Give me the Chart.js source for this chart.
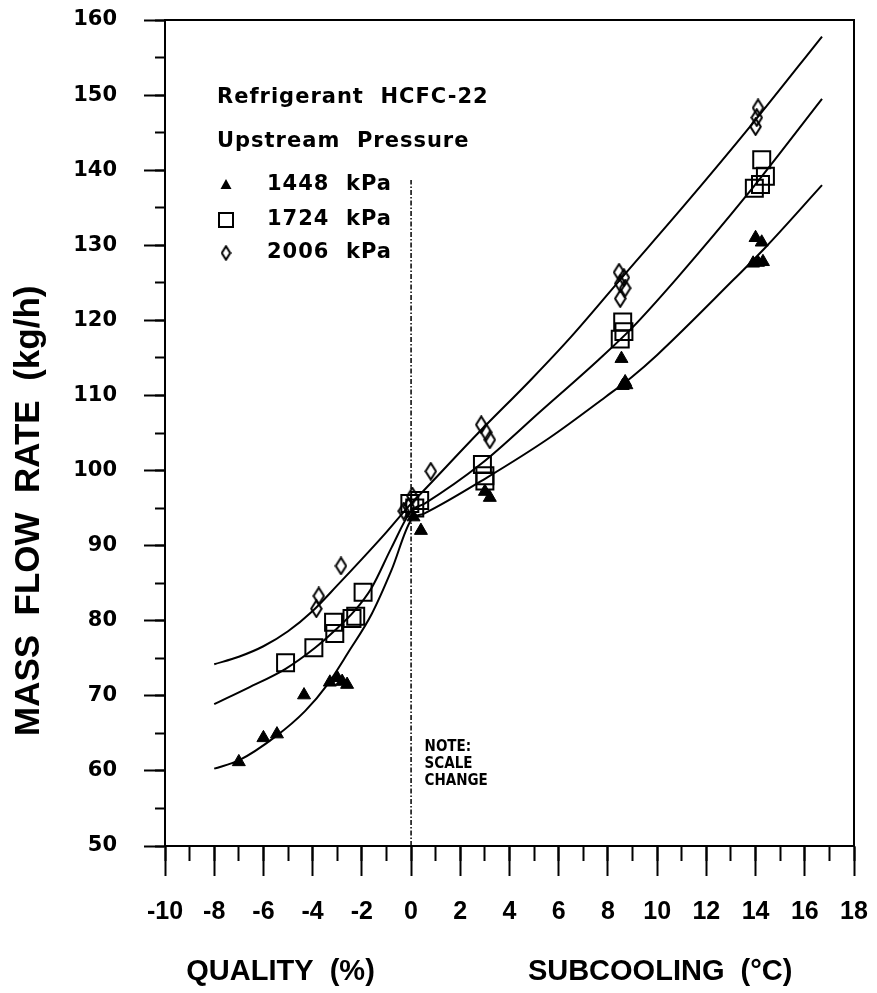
<!DOCTYPE html>
<html>
<head>
<meta charset="utf-8">
<script src="https://cdn.jsdelivr.net/npm/chart.js@4.4.1/dist/chart.umd.min.js"></script>
<style>
  html, body { margin: 0; padding: 0; background: #ffffff; }
  canvas { display: block; }
</style>
</head>
<body>
<canvas id="chart" width="877" height="993"></canvas>
<script>
// ---------------- data ----------------
const xMajorTicks = [-10, -8, -6, -4, -2, 0, 2, 4, 6, 8, 10, 12, 14, 16, 18];
const yMajorTicks = [50, 60, 70, 80, 90, 100, 110, 120, 130, 140, 150, 160];

const seriesLabels = ['1448  kPa', '1724  kPa', '2006  kPa'];

// measured points, 1448 kPa (triangles)
const x1448 = [-7.0, -6.0, -5.45, -4.35, -3.3, -3.0, -2.8, -2.6, 0.1, 0.4, 3.0, 3.2, 8.55, 8.6, 8.7, 8.75, 14.0, 14.25, 13.9, 14.1, 14.3];
const y1448 = [61.2, 64.4, 64.9, 70.1, 71.8, 72.4, 71.9, 71.5, 93.8, 92.0, 97.2, 96.4, 114.9, 111.3, 111.8, 111.4, 131.0, 130.4, 127.6, 127.7, 127.8];

// measured points, 1724 kPa (squares)
const x1724 = [-5.1, -3.95, -3.15, -3.1, -2.4, -2.25, -1.95, -0.05, 0.15, 0.35, 2.9, 3.0, 3.0, 8.6, 8.65, 8.5, 14.25, 14.4, 14.2, 13.95];
const y1724 = [74.4, 76.4, 79.8, 78.3, 80.3, 80.6, 83.8, 95.6, 95.0, 96.0, 100.8, 99.3, 98.6, 119.8, 118.5, 117.5, 141.4, 139.2, 138.1, 137.6];

// measured points, 2006 kPa (diamonds)
const x2006 = [-3.85, -3.75, -2.85, -0.3, -0.1, 0.05, 0.8, 2.85, 3.05, 3.2, 8.45, 8.65, 8.5, 8.7, 8.5, 14.1, 14.05, 14.0];
const y2006 = [81.6, 83.3, 87.3, 94.6, 95.2, 96.6, 99.9, 106.1, 105.1, 104.1, 126.4, 125.7, 124.9, 124.3, 122.9, 148.3, 147.0, 145.8];

// fitted curves
const fit1448X = [-8, -7, -5.5, -4.3, -3.4, -2.55, -1.6, -0.8, 0, 0.55, 3.1, 5.6, 7.9, 8.95, 10, 13.1, 14.4, 16.7];
const fit1448Y = [60.3, 61.4, 64.6, 68.0, 71.5, 75.8, 80.9, 86.7, 93.4, 94.3, 99.1, 104.3, 109.8, 112.4, 115.4, 125.4, 129.7, 138.0];

const fit1724X = [-8, -6.6, -5.1, -3.9, -3.1, -2.3, -1.6, -0.8, 0, 0.55, 2.85, 5.3, 7.6, 8.95, 10.8, 13.7, 16.7];
const fit1724Y = [68.9, 71.1, 73.6, 76.4, 78.7, 81.3, 84.4, 89.7, 94.6, 95.6, 100.9, 108.0, 114.7, 118.9, 125.6, 136.9, 149.5];

const fit2006X = [-8, -7, -6, -5, -4, -3, -2, -1, 0, 0.3, 2.7, 4.9, 6.5, 8.7, 11.1, 13.8, 16.7];
const fit2006Y = [74.2, 75.2, 76.6, 78.6, 81.3, 84.7, 88.2, 91.8, 95.6, 96.6, 104.9, 112.2, 117.8, 126.2, 135.3, 145.9, 157.8];

// divider at zero (quality | subcooling)
const dividerX = [0, 0];
const dividerY = [50, 138.7];

const headerLines = ['Refrigerant  HCFC-22', 'Upstream  Pressure'];
const noteLines = ['NOTE:', 'SCALE', 'CHANGE'];
const xTitleLeft = 'QUALITY  (%)';
const xTitleRight = 'SUBCOOLING  (°C)';
const yTitleText = 'MASS  FLOW  RATE  (kg/h)';

// ---------------- helpers ----------------
const pts = (xs, ys) => xs.map((x, i) => ({ x: x, y: ys[i] }));

function makeDiamond(w, h, lw) {
  const c = document.createElement('canvas');
  c.width = w; c.height = h;
  const g = c.getContext('2d');
  g.strokeStyle = '#000'; g.lineWidth = lw; g.lineJoin = 'miter';
  const m = lw / 2 + 0.3;
  g.beginPath();
  g.moveTo(w / 2, m);
  g.lineTo(w - m, h / 2);
  g.lineTo(w / 2, h - m);
  g.lineTo(m, h / 2);
  g.closePath();
  g.stroke();
  return c;
}
const diamondImg = makeDiamond(13, 19, 2);
const diamondLegendImg = makeDiamond(11, 16, 2);

const FONT_SANS = '"Liberation Sans", Arial, Helvetica, sans-serif';
const FONT_WIDE = '"DejaVu Sans", Verdana, sans-serif';
const FONT_NARROW = '"Liberation Sans Narrow", "DejaVu Sans Condensed", "Arial Narrow", "Liberation Sans", sans-serif';

// layout in pixels
const CA_LEFT = 165, CA_RIGHT = 854, CA_TOP = 20, CA_BOTTOM = 846;
const W = 877, H = 993;

// build axis-title strings with spacing so each part sits under its half
const mctx = document.createElement('canvas').getContext('2d');
const xTitleSize = 29;
mctx.font = 'bold ' + xTitleSize + 'px ' + FONT_SANS;
const spW = mctx.measureText(' ').width;
const wQ = mctx.measureText(xTitleLeft).width;
const wS = mctx.measureText(xTitleRight).width;
const qCenter = 279, sCenter = 661;
const nGap = Math.max(1, Math.round(((sCenter - wS / 2) - (qCenter + wQ / 2)) / spW));
const core = xTitleLeft + ' '.repeat(nGap) + xTitleRight;
const coreW = wQ + nGap * spW + wS;
const caC = (CA_LEFT + CA_RIGHT) / 2;
const startWanted = qCenter - wQ / 2;
let trail = (2 * (caC - startWanted) - coreW) / spW;
let xTitleText;
if (trail >= 0) xTitleText = core + ' '.repeat(Math.round(trail));
else xTitleText = ' '.repeat(Math.round(-trail)) + core;

const yTitleSize = 35;
mctx.font = 'bold ' + yTitleSize + 'px ' + FONT_SANS;
const spY = mctx.measureText(' ').width;
const yCenterWanted = 510;
const yShift = yCenterWanted - (CA_TOP + CA_BOTTOM) / 2; // shift toward the bottom
const yTitleFull = yTitleText + ' '.repeat(Math.max(0, Math.round(2 * yShift / spY)));

// ---------------- plugins ----------------
const framePlugin = {
  id: 'frame',
  afterDatasetsDraw(chart) {
    const { ctx, chartArea: a } = chart;
    ctx.save();
    ctx.strokeStyle = '#000';
    ctx.lineWidth = 2;
    ctx.beginPath();
    ctx.moveTo(a.left, a.top);
    ctx.lineTo(a.right, a.top);
    ctx.lineTo(a.right, a.bottom);
    ctx.stroke();
    ctx.restore();
  }
};

function legendMarker(ctx, kind, x, y) {
  ctx.save();
  ctx.fillStyle = '#000';
  ctx.strokeStyle = '#000';
  if (kind === 0) {
    ctx.beginPath();
    ctx.moveTo(x, y - 6);
    ctx.lineTo(x + 5.5, y + 4);
    ctx.lineTo(x - 5.5, y + 4);
    ctx.closePath();
    ctx.fill();
  } else if (kind === 1) {
    ctx.lineWidth = 2;
    ctx.strokeRect(x - 7, y - 7, 14, 14);
  } else {
    ctx.drawImage(diamondLegendImg, x - diamondLegendImg.width / 2, y - diamondLegendImg.height / 2);
  }
  ctx.restore();
}

const annotationPlugin = {
  id: 'annotations',
  afterDraw(chart) {
    const ctx = chart.ctx;
    ctx.save();
    ctx.fillStyle = '#000';
    ctx.textAlign = 'left';
    ctx.textBaseline = 'middle';
    ctx.font = 'bold 21px ' + FONT_WIDE;
    try { ctx.letterSpacing = '1px'; } catch (e) {}
    ctx.fillText(headerLines[0], 217, 98);
    ctx.fillText(headerLines[1], 217, 142);
    const rowsY = [185, 220, 253];
    for (let i = 0; i < 3; i++) {
      legendMarker(ctx, i, 226, rowsY[i]);
      ctx.fillText(seriesLabels[i], 267, rowsY[i]);
    }
    // note at the scale change
    try { ctx.letterSpacing = '0px'; } catch (e) {}
    ctx.font = 'bold 15px ' + FONT_NARROW;
    const xs = chart.scales.x;
    const ys = chart.scales.y;
    const nx = xs.getPixelForValue(0.55);
    const ny = [63.2, 60.9, 58.6];
    noteLines.forEach((t, i) => ctx.fillText(t, nx, ys.getPixelForValue(ny[i])));
    ctx.restore();
  }
};

// ---------------- chart ----------------
const curveStyle = {
  type: 'line', showLine: true, pointRadius: 0, borderColor: '#000', borderWidth: 2,
  cubicInterpolationMode: 'monotone', fill: false, order: 5
};

const ctx = document.getElementById('chart').getContext('2d');
new Chart(ctx, {
  type: 'scatter',
  data: {
    datasets: [
      Object.assign({ label: 'fit 1448', data: pts(fit1448X, fit1448Y) }, curveStyle),
      Object.assign({ label: 'fit 1724', data: pts(fit1724X, fit1724Y) }, curveStyle),
      Object.assign({ label: 'fit 2006', data: pts(fit2006X, fit2006Y) }, curveStyle),
      {
        type: 'line', label: 'divider', data: pts(dividerX, dividerY), showLine: true, pointRadius: 0,
        borderColor: '#000', borderWidth: 1.5, borderDash: [5, 2, 1.5, 2], fill: false, order: 6
      },
      {
        label: seriesLabels[0], data: pts(x1448, y1448), pointStyle: 'triangle', pointRadius: 7.5,
        pointBackgroundColor: '#000', pointBorderColor: '#000', pointBorderWidth: 1, showLine: false, order: 1
      },
      {
        label: seriesLabels[1], data: pts(x1724, y1724), pointStyle: 'rect', pointRadius: 12,
        pointBackgroundColor: 'rgba(0,0,0,0)', pointBorderColor: '#000', pointBorderWidth: 2, showLine: false, order: 2
      },
      {
        label: seriesLabels[2], data: pts(x2006, y2006), pointStyle: diamondImg, pointRadius: 8,
        pointBackgroundColor: 'rgba(0,0,0,0)', pointBorderColor: '#000', showLine: false, order: 3
      }
    ]
  },
  options: {
    responsive: false,
    animation: false,
    devicePixelRatio: 1,
    events: [],
    layout: { padding: { top: CA_TOP, right: W - CA_RIGHT, left: 0, bottom: 0 } },
    plugins: { legend: { display: false }, tooltip: { enabled: false }, title: { display: false } },
    scales: {
      x: {
        type: 'linear', min: -10, max: 18, position: 'bottom',
        afterBuildTicks: s => { s.ticks = xMajorTicks.map(v => ({ value: v })); },
        afterFit: s => { s.height = H - CA_BOTTOM; s.paddingLeft = 0; s.paddingRight = 0; },
        grid: { drawOnChartArea: false, drawTicks: true, tickLength: 30, tickWidth: 2, tickColor: '#000' },
        border: { display: true, color: '#000', width: 2 },
        ticks: {
          color: '#000', autoSkip: false, maxRotation: 0, padding: 24,
          font: { family: FONT_SANS, weight: 'bold', size: 25, lineHeight: 1 }
        },
        title: {
          display: true, text: xTitleText, color: '#000', align: 'center',
          font: { family: FONT_SANS, weight: 'bold', size: xTitleSize, lineHeight: 1 },
          padding: { top: 0, bottom: 7 }
        }
      },
      xMinor: {
        type: 'linear', axis: 'x', min: -10, max: 18, position: { y: 50 },
        grid: { drawOnChartArea: false, drawTicks: true, tickLength: 15, tickWidth: 2, tickColor: '#000' },
        border: { display: false },
        ticks: { stepSize: 1, display: false, autoSkip: false }
      },
      y: {
        type: 'linear', min: 50, max: 160, position: 'left',
        afterBuildTicks: s => { s.ticks = yMajorTicks.map(v => ({ value: v })); },
        afterFit: s => { s.width = CA_LEFT; s.paddingTop = 0; s.paddingBottom = 0; },
        grid: { drawOnChartArea: false, drawTicks: true, tickLength: 21, tickWidth: 2, tickColor: '#000' },
        border: { display: true, color: '#000', width: 2 },
        ticks: {
          color: '#000', autoSkip: false, padding: 27,
          font: { family: FONT_WIDE, weight: 'bold', size: 21, lineHeight: 1 }
        },
        title: {
          display: true, text: yTitleFull, color: '#000', align: 'center',
          font: { family: FONT_SANS, weight: 'bold', size: yTitleSize, lineHeight: 1 },
          padding: { top: 12, bottom: 0 }
        }
      },
      yMinor: {
        type: 'linear', axis: 'y', min: 50, max: 160, position: { x: -10 },
        grid: { drawOnChartArea: false, drawTicks: true, tickLength: 10, tickWidth: 2, tickColor: '#000' },
        border: { display: false },
        ticks: { stepSize: 5, display: false, autoSkip: false }
      }
    }
  },
  plugins: [framePlugin, annotationPlugin]
});
</script>
</body>
</html>
